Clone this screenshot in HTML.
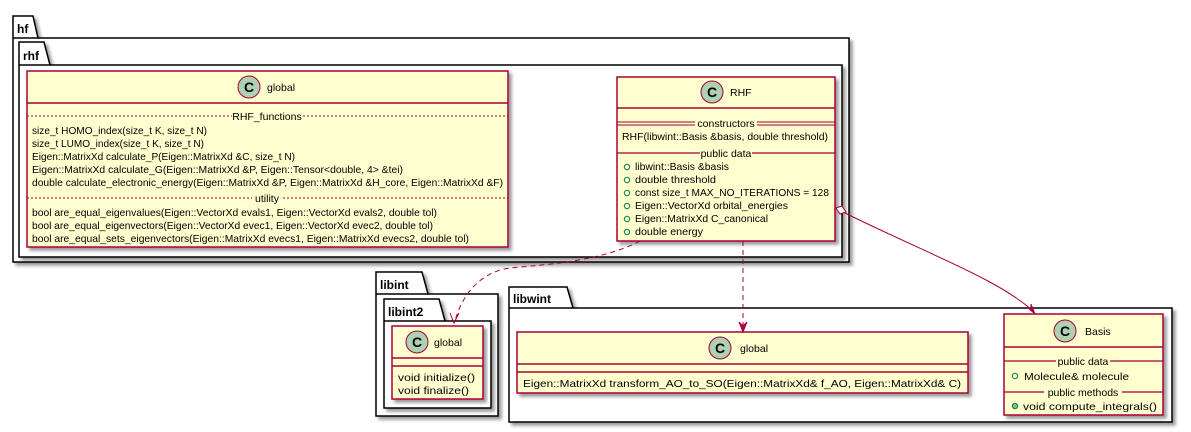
<!DOCTYPE html>
<html><head><meta charset="utf-8"><style>
html,body{margin:0;padding:0;background:#fff;}
svg{display:block;font-family:"Liberation Sans","DejaVu Sans",sans-serif;}
.t{font-size:10.5px;fill:#000;}
.pk{font-size:12px;font-weight:bold;fill:#000;}
</style></head><body>
<svg width="1191" height="432" viewBox="0 0 1191 432" xmlns="http://www.w3.org/2000/svg">
<defs>
<filter id="sh" x="-5%" y="-5%" width="110%" height="115%"><feDropShadow dx="3" dy="3" stdDeviation="1.5" flood-color="#000" flood-opacity="0.4"/></filter>
</defs>
<!-- hf -->
<g filter="url(#sh)">
<path d="M13,38 L13,16 L33,16 L38,38 L849,38 L849,262 L13,262 Z" fill="#fff" stroke="#000" stroke-width="1.5"/>
</g>
<line x1="13" y1="38" x2="38" y2="38" stroke="#000" stroke-width="1.5"/>
<text class="pk" x="17" y="33">hf</text>
<!-- rhf -->
<g filter="url(#sh)">
<path d="M19,65 L19,42 L44,42 L50,65 L842,65 L842,257 L19,257 Z" fill="#fff" stroke="#000" stroke-width="1.5"/>
</g>
<line x1="19" y1="65" x2="50" y2="65" stroke="#000" stroke-width="1.5"/>
<text class="pk" x="23" y="60">rhf</text>

<!-- global rhf -->
<rect x="27" y="71" width="481" height="176" fill="#FEFECE" stroke="#A80036" stroke-width="1.5" filter="url(#sh)"/>
<circle cx="249" cy="87" r="11" fill="#ADD1B2" stroke="#A80036"/>
<text x="249" y="92" text-anchor="middle" font-size="14" font-weight="bold">C</text>
<text class="t" x="267" y="91" font-size="12">global</text>
<line x1="27" y1="103" x2="508" y2="103" stroke="#A80036" stroke-width="1.5"/>
<line x1="27" y1="116" x2="508" y2="116" stroke="#A80036" stroke-dasharray="2,2"/>
<rect x="232" y="109" width="70" height="12" fill="#FEFECE"/>
<text class="t" x="267" y="120" text-anchor="middle">RHF_functions</text>
<text class="t" x="32" y="134" textLength="175" lengthAdjust="spacingAndGlyphs">size_t HOMO_index(size_t K, size_t N)</text>
<text class="t" x="32" y="147" textLength="172" lengthAdjust="spacingAndGlyphs">size_t LUMO_index(size_t K, size_t N)</text>
<text class="t" x="32" y="160" textLength="263" lengthAdjust="spacingAndGlyphs">Eigen::MatrixXd calculate_P(Eigen::MatrixXd &amp;C, size_t N)</text>
<text class="t" x="32" y="173" textLength="371" lengthAdjust="spacingAndGlyphs">Eigen::MatrixXd calculate_G(Eigen::MatrixXd &amp;P, Eigen::Tensor&lt;double, 4&gt; &amp;tei)</text>
<text class="t" x="32" y="186" textLength="471" lengthAdjust="spacingAndGlyphs">double calculate_electronic_energy(Eigen::MatrixXd &amp;P, Eigen::MatrixXd &amp;H_core, Eigen::MatrixXd &amp;F)</text>
<line x1="27" y1="198" x2="508" y2="198" stroke="#A80036" stroke-dasharray="2,2"/>
<rect x="252" y="192" width="30" height="12" fill="#FEFECE"/>
<text class="t" x="267" y="202" text-anchor="middle">utility</text>
<text class="t" x="32" y="216" textLength="405" lengthAdjust="spacingAndGlyphs">bool are_equal_eigenvalues(Eigen::VectorXd evals1, Eigen::VectorXd evals2, double tol)</text>
<text class="t" x="32" y="229" textLength="401" lengthAdjust="spacingAndGlyphs">bool are_equal_eigenvectors(Eigen::VectorXd evec1, Eigen::VectorXd evec2, double tol)</text>
<text class="t" x="32" y="242" textLength="437" lengthAdjust="spacingAndGlyphs">bool are_equal_sets_eigenvectors(Eigen::MatrixXd evecs1, Eigen::MatrixXd evecs2, double tol)</text>

<!-- RHF -->
<rect x="617" y="77" width="218" height="164" fill="#FEFECE" stroke="#A80036" stroke-width="1.5" filter="url(#sh)"/>
<circle cx="712" cy="92" r="11" fill="#ADD1B2" stroke="#A80036"/>
<text x="712" y="97" text-anchor="middle" font-size="14" font-weight="bold">C</text>
<text class="t" x="730" y="96" font-size="12">RHF</text>
<line x1="617" y1="108" x2="835" y2="108" stroke="#A80036" stroke-width="1.5"/>
<line x1="617" y1="122" x2="835" y2="122" stroke="#A80036"/>
<line x1="617" y1="125" x2="835" y2="125" stroke="#A80036"/>
<rect x="695" y="117" width="62" height="12" fill="#FEFECE"/>
<text class="t" x="726" y="127" text-anchor="middle">constructors</text>
<text class="t" x="622" y="140" textLength="206" lengthAdjust="spacingAndGlyphs">RHF(libwint::Basis &amp;basis, double threshold)</text>
<line x1="617" y1="153" x2="835" y2="153" stroke="#A80036" stroke-width="1.2"/>
<rect x="700" y="147" width="52" height="12" fill="#FEFECE"/>
<text class="t" x="726" y="157" text-anchor="middle">public data</text>
<g fill="none" stroke="#038048">
<circle cx="627" cy="167" r="2.7"/><circle cx="627" cy="180" r="2.7"/><circle cx="627" cy="193" r="2.7"/>
<circle cx="627" cy="206" r="2.7"/><circle cx="627" cy="219" r="2.7"/><circle cx="627" cy="232" r="2.7"/>
</g>
<text class="t" x="635" y="170" textLength="94" lengthAdjust="spacingAndGlyphs">libwint::Basis &amp;basis</text>
<text class="t" x="635" y="183" textLength="81" lengthAdjust="spacingAndGlyphs">double threshold</text>
<text class="t" x="635" y="196" textLength="194" lengthAdjust="spacingAndGlyphs">const size_t MAX_NO_ITERATIONS = 128</text>
<text class="t" x="635" y="209" textLength="153" lengthAdjust="spacingAndGlyphs">Eigen::VectorXd orbital_energies</text>
<text class="t" x="635" y="222" textLength="133" lengthAdjust="spacingAndGlyphs">Eigen::MatrixXd C_canonical</text>
<text class="t" x="635" y="235" textLength="68" lengthAdjust="spacingAndGlyphs">double energy</text>

<!-- libint -->
<g filter="url(#sh)">
<path d="M376,294 L376,272 L422,272 L428,294 L498,294 L498,416 L376,416 Z" fill="#fff" stroke="#000" stroke-width="1.5"/>
</g>
<line x1="376" y1="294" x2="428" y2="294" stroke="#000" stroke-width="1.5"/>
<text class="pk" x="380" y="289">libint</text>
<g filter="url(#sh)">
<path d="M384,321 L384,299 L439,299 L445,321 L491,321 L491,408 L384,408 Z" fill="#fff" stroke="#000" stroke-width="1.5"/>
</g>
<line x1="384" y1="321" x2="445" y2="321" stroke="#000" stroke-width="1.5"/>
<text class="pk" x="388" y="316">libint2</text>
<rect x="392" y="326" width="91" height="73" fill="#FEFECE" stroke="#A80036" stroke-width="1.5" filter="url(#sh)"/>
<circle cx="417" cy="342" r="11" fill="#ADD1B2" stroke="#A80036"/>
<text x="417" y="347" text-anchor="middle" font-size="14" font-weight="bold">C</text>
<text class="t" x="434" y="346" font-size="12">global</text>
<line x1="392" y1="358" x2="483" y2="358" stroke="#A80036" stroke-width="1.5"/>
<line x1="392" y1="366" x2="483" y2="366" stroke="#A80036" stroke-width="1.5"/>
<text class="t" x="398" y="381" textLength="77" lengthAdjust="spacingAndGlyphs">void initialize()</text>
<text class="t" x="398" y="394" textLength="71" lengthAdjust="spacingAndGlyphs">void finalize()</text>

<!-- libwint -->
<g filter="url(#sh)">
<path d="M509,308 L509,287 L567,287 L573,308 L1172,308 L1172,422 L509,422 Z" fill="#fff" stroke="#000" stroke-width="1.5"/>
</g>
<line x1="509" y1="308" x2="573" y2="308" stroke="#000" stroke-width="1.5"/>
<text class="pk" x="513" y="303">libwint</text>
<rect x="517" y="332" width="451" height="61" fill="#FEFECE" stroke="#A80036" stroke-width="1.5" filter="url(#sh)"/>
<circle cx="720" cy="348" r="11" fill="#ADD1B2" stroke="#A80036"/>
<text x="720" y="353" text-anchor="middle" font-size="14" font-weight="bold">C</text>
<text class="t" x="740" y="352" font-size="12">global</text>
<line x1="517" y1="364" x2="968" y2="364" stroke="#A80036" stroke-width="1.5"/>
<line x1="517" y1="372" x2="968" y2="372" stroke="#A80036" stroke-width="1.5"/>
<text class="t" x="523" y="387" textLength="438" lengthAdjust="spacingAndGlyphs">Eigen::MatrixXd transform_AO_to_SO(Eigen::MatrixXd&amp; f_AO, Eigen::MatrixXd&amp; C)</text>

<rect x="1004" y="314" width="159" height="101" fill="#FEFECE" stroke="#A80036" stroke-width="1.5" filter="url(#sh)"/>
<circle cx="1065" cy="331" r="11" fill="#ADD1B2" stroke="#A80036"/>
<text x="1065" y="336" text-anchor="middle" font-size="14" font-weight="bold">C</text>
<text class="t" x="1085" y="335" font-size="12">Basis</text>
<line x1="1004" y1="347" x2="1163" y2="347" stroke="#A80036" stroke-width="1.5"/>
<line x1="1004" y1="361" x2="1163" y2="361" stroke="#A80036" stroke-width="1.2"/>
<rect x="1056" y="355" width="54" height="12" fill="#FEFECE"/>
<text class="t" x="1083" y="365" text-anchor="middle">public data</text>
<circle cx="1015" cy="376" r="2.7" fill="none" stroke="#038048"/>
<text class="t" x="1024" y="380" textLength="105" lengthAdjust="spacingAndGlyphs">Molecule&amp; molecule</text>
<line x1="1004" y1="392" x2="1163" y2="392" stroke="#A80036" stroke-width="1.2"/>
<rect x="1044" y="386" width="78" height="12" fill="#FEFECE"/>
<text class="t" x="1083" y="396" text-anchor="middle">public methods</text>
<circle cx="1015" cy="406" r="2.7" fill="#84BE84" stroke="#038048"/>
<text class="t" x="1023" y="410" textLength="134" lengthAdjust="spacingAndGlyphs">void compute_integrals()</text>

<!-- connectors -->
<path d="M640,241 C600,262 540,265 510,268 C480,272 462,295 455,321" fill="none" stroke="#A80036" stroke-dasharray="5,4"/>
<path d="M450,313 L454,323 L459,313" fill="none" stroke="#A80036"/>
<line x1="743" y1="241" x2="743" y2="330" stroke="#A80036" stroke-dasharray="5,4"/>
<path d="M739,322 L743,332 L747,322 L743,326 Z" fill="#A80036" stroke="#A80036"/>
<path d="M845,213 C930,255 1000,280 1034,312" fill="none" stroke="#A80036"/>
<path d="M836,208 L842,206 L846,212 L840,214 Z" fill="#fff" stroke="#A80036"/>
<path d="M1027,307 L1035,314 L1031,304 L1031,309 Z" fill="#A80036" stroke="#A80036"/>
</svg>
</body></html>
